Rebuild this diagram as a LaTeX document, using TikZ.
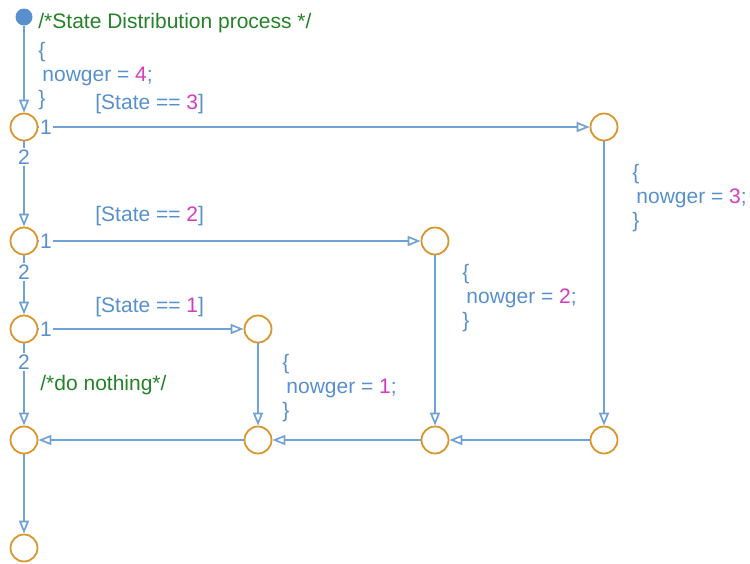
\documentclass[tikz,border=0pt]{standalone}
\usepackage{fontspec}
\setmainfont{Liberation Sans}
\usetikzlibrary{arrows.meta}
\definecolor{flowline}{RGB}{112,162,216}
\definecolor{codeblue}{RGB}{88,144,206}
\definecolor{codemag}{RGB}{212,62,190}
\definecolor{codegreen}{RGB}{36,130,40}
\definecolor{juncorange}{RGB}{216,150,44}

\begin{document}
\begin{tikzpicture}[x=0.5pt, y=-0.5pt,
  font=\fontsize{10.5}{12}\selectfont,
  junction/.style={circle, draw=juncorange, line width=0.9pt, minimum size=13.5pt, inner sep=0pt},
  startdot/.style={circle, fill=codeblue, minimum size=8.5pt, inner sep=0pt},
  flow/.style={draw=flowline, line width=0.85pt, -{Triangle[open, length=6.5pt, width=5pt]}},
  plain/.style={draw=flowline, line width=0.85pt},
  order/.style={text=codeblue, inner sep=0.5pt},
  code/.style={text=codeblue, anchor=west, inner sep=0pt, align=left},
  comment/.style={text=codegreen, anchor=west, inner sep=0pt}]
  \useasboundingbox (0,0) rectangle (750,563);
  % junctions
  \node[startdot] (start) at (24,17) {};
  \node[junction] (j3) at (24,127) {};
  \node[junction] (j3r) at (604,127) {};
  \node[junction] (j2) at (24,241) {};
  \node[junction] (j2r) at (435,241) {};
  \node[junction] (j1) at (24,329) {};
  \node[junction] (j1r) at (258,329) {};
  \node[junction] (m0) at (24,440) {};
  \node[junction] (m1) at (258,440) {};
  \node[junction] (m2) at (435,440) {};
  \node[junction] (m3) at (604,440) {};
  \node[junction] (stop) at (24,548) {};
  % transition order numbers
  \node[order] (o3a) at (46,127) {1};
  \node[order] (o3b) at (24,157) {2};
  \node[order] (o2a) at (46,241) {1};
  \node[order] (o2b) at (24,272) {2};
  \node[order] (o1a) at (46,329) {1};
  \node[order] (o1b) at (24,362) {2};
  % transitions
  \draw[flow] (start) -- (j3);
  \draw[plain] (j3) -- (o3a);
  \draw[flow] (o3a) -- (j3r);
  \draw[plain] (j3) -- (o3b);
  \draw[flow] (o3b) -- (j2);
  \draw[plain] (j2) -- (o2a);
  \draw[flow] (o2a) -- (j2r);
  \draw[plain] (j2) -- (o2b);
  \draw[flow] (o2b) -- (j1);
  \draw[plain] (j1) -- (o1a);
  \draw[flow] (o1a) -- (j1r);
  \draw[plain] (j1) -- (o1b);
  \draw[flow] (o1b) -- (m0);
  \draw[flow] (j3r) -- (m3);
  \draw[flow] (j2r) -- (m2);
  \draw[flow] (j1r) -- (m1);
  \draw[flow] (m3) -- (m2);
  \draw[flow] (m2) -- (m1);
  \draw[flow] (m1) -- (m0);
  \draw[flow] (m0) -- (stop);
  % labels
  \node[comment] (c0) at (38,23) {/*State Distribution process */};
  \node[code] (a4) at (38,76) {\{\\\hspace{2pt}nowger = \textcolor{codemag}{4};\\\}};
  \node[code] (g3) at (95,104) {[State == \textcolor{codemag}{3}]};
  \node[code] (g2) at (95,216) {[State == \textcolor{codemag}{2}]};
  \node[code] (g1) at (95,307) {[State == \textcolor{codemag}{1}]};
  \node[comment] (c1) at (40,385) {/*do nothing*/};
  \node[code] (a3) at (632,198) {\{\\\hspace{2pt}nowger = \textcolor{codemag}{3};\\\}};
  \node[code] (a2) at (462,298) {\{\\\hspace{2pt}nowger = \textcolor{codemag}{2};\\\}};
  \node[code] (a1) at (282,388) {\{\\\hspace{2pt}nowger = \textcolor{codemag}{1};\\\}};
\end{tikzpicture}
\end{document}
